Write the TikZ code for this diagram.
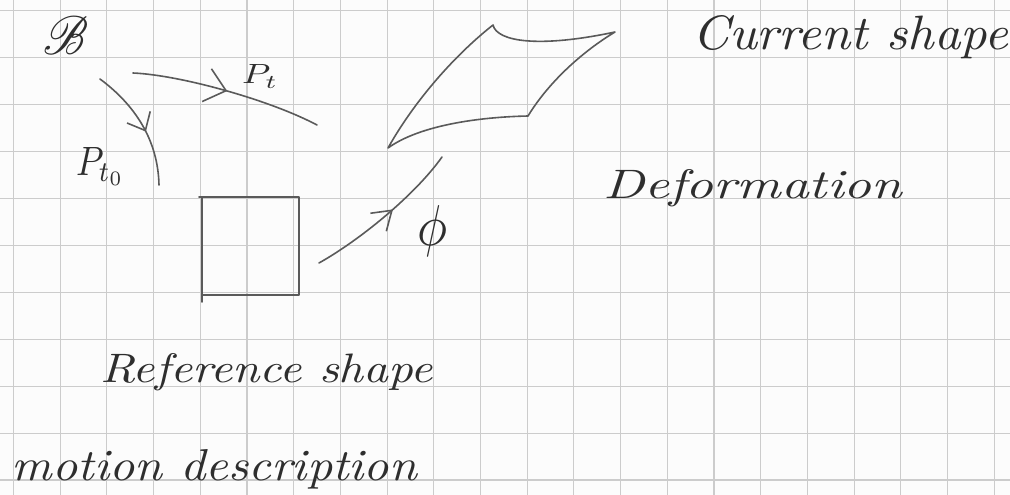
\documentclass[tikz,border=0pt]{standalone}
\usepackage{graphicx}
\usepackage{mathrsfs}
\usetikzlibrary{arrows.meta,decorations.markings}
\definecolor{pencil}{HTML}{5A5A5A}
\definecolor{ink}{HTML}{2E2E2E}
\definecolor{gridc}{HTML}{CCCCCC}
\definecolor{paper}{HTML}{FCFCFC}
\begin{document}
\begin{tikzpicture}[x=1pt,y=-1pt,
  sketch/.style={draw=pencil, line width=1.6pt, line cap=round, line join=round},
  gridline/.style={draw=gridc, line width=1.1pt},
  txt/.style={inner sep=0pt, outer sep=0pt, text=ink},
  arrowat/.style n args={3}{postaction={decorate},
    decoration={markings, mark=at position #1 with {\arrow{Straight Barb[length=#2, width=#3]}}}}]
\useasboundingbox[fill=paper] (0,0) rectangle (1010,495);
% grid paper
\foreach \k in {0,...,21} \draw[gridline] ({13.5+46.7*\k},0) -- ({13.5+46.7*\k},495);
\foreach \k in {0,...,10} \draw[gridline] (0,{10.5+46.95*\k}) -- (1010,{10.5+46.95*\k});
% labels
\node[txt, anchor=base] (B) at (66,55) {\resizebox{45pt}{38pt}{$\mathscr{B}$}};
\node[txt, anchor=base west] (pt0) at (76,175) {\resizebox{49pt}{28pt}{$P_{t_0}$}};
\node[txt, anchor=base west] (pt) at (242,84) {\resizebox{36pt}{19pt}{$P_t$}};
\node[txt] (phi) at (432,231) {\resizebox{30pt}{40pt}{$\phi$}};
\node[txt, anchor=base west] (cur) at (692,50) {\resizebox{316pt}{34pt}{\itshape Current shape}};
\node[txt, anchor=base west] (def) at (603,198) {\resizebox{299pt}{29pt}{\itshape Deformation}};
\node[txt, anchor=base west] (ref) at (100,382) {\resizebox{333pt}{29pt}{\itshape Reference shape}};
\node[txt, anchor=base west] (mot) at (12,480) {\resizebox{405pt}{31pt}{\itshape motion description}};
% motion curves
\coordinate (a0) at (100,79); \coordinate (a1) at (159,185);
\draw[sketch, arrowat={0.56}{15pt}{26pt}] (a0) .. controls (135,105) and (158,140) .. (a1);
\coordinate (b0) at (133,73); \coordinate (b1) at (317,125);
\draw[sketch, arrowat={0.5}{20pt}{34pt}] (b0) .. controls (180,75) and (270,100) .. (b1);
% reference shape
\coordinate (s1) at (202,197); \coordinate (s2) at (299,197);
\coordinate (s3) at (299,295); \coordinate (s4) at (202,295);
\draw[sketch] (s1) -- (s2) -- (s3) -- (s4) -- cycle;
\draw[sketch] (199,197) -- (s1);
\draw[sketch] (s4) -- (202,302);
% deformation arrow
\coordinate (c0) at (319,263); \coordinate (c1) at (442,157);
\draw[sketch, arrowat={0.56}{18pt}{24pt}] (c0) .. controls (360,240) and (415,195) .. (c1);
% current shape
\coordinate (q1) at (388,148); \coordinate (q2) at (493,25);
\coordinate (q3) at (615,32); \coordinate (q4) at (528,116);
\draw[sketch] (q1) .. controls (415,100) and (455,55) .. (q2)
  .. controls (497,42) and (540,48) .. (q3)
  .. controls (585,50) and (550,80) .. (q4)
  .. controls (480,117) and (420,125) .. (q1);
\end{tikzpicture}
\end{document}
